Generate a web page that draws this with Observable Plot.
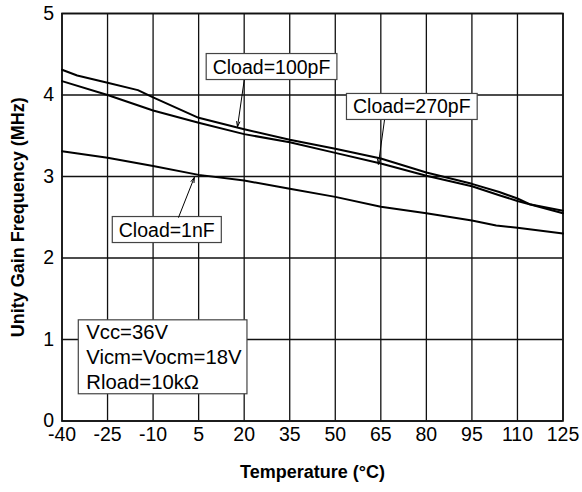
<!DOCTYPE html>
<html>
<head>
<meta charset="utf-8">
<script src="https://cdn.jsdelivr.net/npm/d3@7"></script>
<script src="https://cdn.jsdelivr.net/npm/@observablehq/plot@0.6"></script>
<style>
  html, body { margin: 0; padding: 0; background: #fff; }
  #chart svg { display: block; }
  g[aria-label="x-axis label"] text, g[aria-label="y-axis label"] text { font-weight: bold; font-size: 18px; }
</style>
</head>
<body>
<div id="chart"></div>
<script>
// Temperature ticks
const xTicks = [-40, -25, -10, 5, 20, 35, 50, 65, 80, 95, 110, 125];
const yTicks = [0, 1, 2, 3, 4, 5];

// Cload = 100pF
const temps100 = [-40, -35, -25, -15, -10, 5, 20, 35, 50, 65, 80, 95, 104, 110, 114, 125];
const freq100  = [4.31, 4.24, 4.15, 4.06, 3.97, 3.72, 3.58, 3.45, 3.34, 3.22, 3.05, 2.91, 2.81, 2.73, 2.66, 2.58];

// Cload = 270pF
const temps270 = [-40, -25, -10, 5, 20, 35, 50, 65, 80, 95, 104, 110, 125];
const freq270  = [4.17, 4.00, 3.81, 3.66, 3.52, 3.42, 3.29, 3.16, 3.01, 2.88, 2.77, 2.70, 2.55];

// Cload = 1nF
const temps1n = [-40, -25, -10, 5, 20, 35, 50, 65, 80, 95, 103, 110, 125];
const freq1n  = [3.31, 3.23, 3.13, 3.02, 2.95, 2.85, 2.75, 2.63, 2.55, 2.46, 2.40, 2.37, 2.30];

// Annotation labels (data coordinates)
const labelText = ["Cload=100pF", "Cload=270pF", "Cload=1nF"];
const labelX    = [29.0, 75.2, -5.5];
const labelY    = [4.34, 3.85, 2.34];
const arrowX1   = [20.0, 66.2, -1.6];
const arrowY1   = [4.18, 3.69, 2.50];
const arrowX2   = [17.8, 64.2, 3.6];
const arrowY2   = [3.61, 3.15, 2.99];

const conditions = "Vcc=36V\nVicm=Vocm=18V\nRload=10kΩ";

const rows = [
  ...temps100.map((t, i) => ({series: "100pF", t, f: freq100[i]})),
  ...temps270.map((t, i) => ({series: "270pF", t, f: freq270[i]})),
  ...temps1n.map((t, i) => ({series: "1nF", t, f: freq1n[i]}))
];
const labels = labelText.map((s, i) => ({s, x: labelX[i], y: labelY[i], x1: arrowX1[i], y1: arrowY1[i], x2: arrowX2[i], y2: arrowY2[i]}));

const FONT = "'Liberation Sans', Arial, sans-serif";

const plot = Plot.plot({
  width: 582,
  height: 492,
  marginLeft: 61.5,
  marginRight: 19.5,
  marginTop: 13,
  marginBottom: 71.5,
  style: {fontFamily: FONT, fontSize: "19.5px", color: "#000", background: "#fff"},
  x: {domain: [-40, 125]},
  y: {domain: [0, 5]},
  marks: [
    Plot.gridX(xTicks, {stroke: "#111", strokeOpacity: 1, strokeWidth: 1.3}),
    Plot.gridY(yTicks, {stroke: "#111", strokeOpacity: 1, strokeWidth: 1.3}),
    Plot.frame({stroke: "#111", strokeWidth: 1.6}),
    Plot.axisX({ticks: xTicks, tickFormat: d => String(d), tickSize: 0, tickPadding: 6, label: "Temperature (°C)", labelAnchor: "center", labelArrow: "none", labelOffset: 57}),
    Plot.axisY({ticks: yTicks, tickFormat: d => String(d), tickSize: 0, tickPadding: 8, label: "Unity Gain Frequency (MHz)", labelAnchor: "center", labelArrow: "none", labelOffset: 51}),
    Plot.line(rows, {x: "t", y: "f", z: "series", stroke: "#000", strokeWidth: 2}),
    Plot.text([conditions], {x: -32, y: 0.80, text: d => d, textAnchor: "start", fontSize: 20.3, lineHeight: 1.23, fill: "#000"}),
    Plot.text(labels, {x: "x", y: "y", text: "s", fill: "#000"}),
    Plot.arrow(labels, {x1: "x1", y1: "y1", x2: "x2", y2: "y2", stroke: "#000", strokeWidth: 1, headLength: 8, headAngle: 35})
  ]
});

document.getElementById("chart").appendChild(plot);

// Draw boxes behind the annotation texts
const ns = "http://www.w3.org/2000/svg";
plot.querySelectorAll('g[aria-label="text"] text').forEach(t => {
  const b = t.getBBox();
  const multi = t.querySelectorAll("tspan").length > 1;
  const padL = multi ? 8 : 6.5, padR = multi ? 5 : 6.5, padV = multi ? 1 : 2;
  const r = document.createElementNS(ns, "rect");
  r.setAttribute("x", b.x - padL);
  r.setAttribute("y", b.y - padV);
  r.setAttribute("width", b.width + padL + padR);
  r.setAttribute("height", b.height + 2 * padV);
  r.setAttribute("fill", "#fff");
  r.setAttribute("stroke", "#444");
  r.setAttribute("stroke-width", 1.2);
  const tr = t.getAttribute("transform");
  if (tr) r.setAttribute("transform", tr);
  t.parentNode.insertBefore(r, t);
});
</script>
</body>
</html>
